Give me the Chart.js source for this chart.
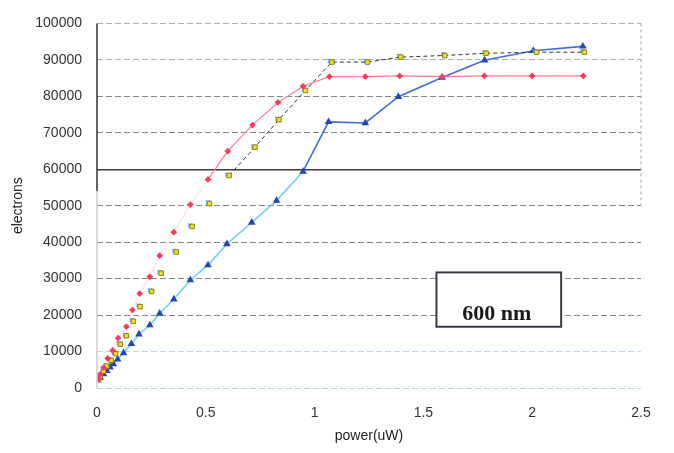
<!DOCTYPE html>
<html>
<head>
<meta charset="utf-8">
<script src="https://cdn.jsdelivr.net/npm/chart.js@4/dist/chart.umd.min.js"></script>
<style>
  html, body { margin: 0; padding: 0; background: #fff; }
  #chart { display: block; }
</style>
</head>
<body>
<canvas id="chart" width="674" height="453"></canvas>
<script>
(function () {
    'use strict';

    // ── Data ──────────────────────────────────────────────────────────────────
    var redX    = [0.005, 0.015, 0.03, 0.049, 0.072, 0.097, 0.135, 0.163, 0.196, 0.243, 0.288, 0.353, 0.429,
                   0.51, 0.601, 0.714, 0.832, 0.947, 1.068, 1.233, 1.391, 1.586, 1.78, 2.0, 2.235];
    var redY    = [2500, 3800, 5600, 8100, 10300, 13700, 16800, 21400, 25900, 30500, 36300, 42750, 50300,
                   57200, 64950, 72100, 78300, 82750, 85400, 85400, 85600, 85400, 85600, 85600, 85600];

    var yelX    = [0.005, 0.015, 0.03, 0.045, 0.065, 0.085, 0.107, 0.135, 0.167, 0.198, 0.251, 0.295, 0.364,
                   0.437, 0.517, 0.607, 0.726, 0.836, 0.958, 1.079, 1.243, 1.396, 1.598, 1.788, 2.02, 2.24];
    var yelY    = [2300, 3300, 4600, 6000, 7600, 9400, 12000, 14300, 18300, 22300, 26500, 31500, 37300,
                   44300, 50600, 58300, 66050, 73600, 81600, 89400, 89400, 90750, 91200, 91800, 92100, 92100];

    var cyanX   = [0.002, 0.011, 0.025, 0.039, 0.058, 0.078, 0.1, 0.128, 0.16, 0.19, 0.243, 0.287, 0.355,
                   0.427, 0.509, 0.598, 0.718, 0.828, 0.95, 1.07, 1.234, 1.388, 1.59, 1.78, 2.01, 2.23];
    var cyanY   = [2400, 3400, 4800, 6300, 7900, 9700, 12300, 14600, 18600, 22700, 26800, 31800, 37600,
                   44600, 50900, 58500, 66300, 73900, 81900, 89700, 89700, 91100, 91600, 92100, 92400, 92500];

    var blueX   = [0.005, 0.015, 0.03, 0.045, 0.06, 0.075, 0.095, 0.122, 0.158, 0.193, 0.243, 0.288, 0.353,
                   0.429, 0.51, 0.597, 0.711, 0.825, 0.947, 1.064, 1.233, 1.385, 1.586, 1.781, 2.005, 2.233];
    var blueY   = [2200, 2900, 3800, 4700, 5700, 6600, 7900, 9600, 12100, 14750, 17250, 20450, 24350,
                   29600, 33700, 39500, 45400, 51400, 59400, 73000, 72700, 79900, 85150, 89900, 92500, 93700];

    var yTicks  = [0, 10000, 20000, 30000, 40000, 50000, 60000, 70000, 80000, 90000, 100000];
    var xTicks  = [0, 0.5, 1, 1.5, 2, 2.5];
    var label   = '600 nm';

    function pts(xs, ys) {
        return xs.map(function (x, i) { return { x: x, y: ys[i] }; });
    }

    // ── Plugin: dark upper axis segment, faint right edge, label box ─────────
    var decor = {
        id: 'decor',
        afterDraw: function (chart) {
            var c  = chart.ctx;
            var xs = chart.scales.x, ys = chart.scales.y;
            var left = chart.chartArea.left, right = chart.chartArea.right;
            c.save();
            // left axis: solid dark on top, faint below
            c.lineWidth = 1.5;
            c.strokeStyle = '#d9c8cc';
            c.beginPath(); c.moveTo(left, ys.getPixelForValue(54000)); c.lineTo(left, ys.getPixelForValue(0)); c.stroke();
            c.strokeStyle = '#333';
            c.beginPath(); c.moveTo(left, ys.getPixelForValue(100000)); c.lineTo(left, ys.getPixelForValue(54000)); c.stroke();
            // right edge, faint dashed
            c.lineWidth = 1;
            c.strokeStyle = '#9aa';
            c.setLineDash([3, 3]);
            c.beginPath(); c.moveTo(right, ys.getPixelForValue(100000)); c.lineTo(right, ys.getPixelForValue(50000)); c.stroke();
            c.setLineDash([]);
            // label box
            var bx0 = xs.getPixelForValue(1.56), bx1 = xs.getPixelForValue(2.133);
            var by0 = ys.getPixelForValue(31700), by1 = ys.getPixelForValue(16800);
            c.fillStyle = '#fff';
            c.fillRect(bx0, by0, bx1 - bx0, by1 - by0);
            c.lineWidth = 2;
            c.strokeStyle = '#3a3a48';
            c.strokeRect(bx0, by0, bx1 - bx0, by1 - by0);
            c.fillStyle = '#1a1a1a';
            c.font = 'bold 22px "Liberation Serif", "DejaVu Serif", serif';
            c.textAlign = 'center';
            c.textBaseline = 'middle';
            c.fillText(label, (bx0 + bx1) / 2 - 2, by0 + (by1 - by0) * 0.77);
            c.restore();
        }
    };

    var tickFont = { family: '"Liberation Sans", Arial, sans-serif', size: 14 };

    new Chart(document.getElementById('chart'), {
        type: 'scatter',
        data: {
            datasets: [
                {
                    label: 'red',
                    data: pts(redX, redY),
                    showLine: true,
                    borderColor: '#ff7a94',
                    borderWidth: 1.2,
                    pointStyle: 'rectRot',
                    pointRadius: 2.5,
                    pointBackgroundColor: '#ff3a5c',
                    pointBorderColor: '#ff3a5c',
                    segment: {
                        borderColor: function (ctx) { return ctx.p0.parsed.x < 0.5 ? 'rgba(255,150,170,0.3)' : '#ff7a94'; }
                    }
                },
                {
                    label: 'yellow',
                    data: pts(yelX, yelY),
                    showLine: true,
                    borderColor: '#333',
                    borderWidth: 1,
                    borderDash: [4, 3],
                    pointStyle: 'rect',
                    pointRadius: 3.2,
                    pointBackgroundColor: '#f0e020',
                    pointBorderColor: '#8a8020',
                    pointBorderWidth: 1,
                    segment: {
                        borderColor: function (ctx) { return ctx.p0.parsed.x < 0.55 ? 'transparent' : '#333'; }
                    }
                },
                {
                    label: 'cyan',
                    data: pts(cyanX, cyanY),
                    showLine: false,
                    pointStyle: 'crossRot',
                    pointRadius: 2.6,
                    pointBorderWidth: 1.4,
                    pointBorderColor: '#3cb0e0'
                },
                {
                    label: 'blue',
                    data: pts(blueX, blueY),
                    showLine: true,
                    borderColor: '#6fd3f0',
                    borderWidth: 1.6,
                    pointStyle: 'triangle',
                    pointRadius: 2.8,
                    pointBackgroundColor: '#2346b8',
                    pointBorderColor: '#2346b8',
                    segment: {
                        borderColor: function (ctx) { return ctx.p0.parsed.x < 0.9 ? '#72d2f0' : '#3f6fd8'; }
                    }
                }
            ]
        },
        options: {
            responsive: false,
            animation: false,
            layout: { padding: { top: 13, right: 33, left: 0, bottom: 0 } },
            plugins: {
                legend: { display: false },
                tooltip: { enabled: false }
            },
            scales: {
                x: {
                    type: 'linear',
                    min: 0,
                    max: 2.5,
                    afterBuildTicks: function (s) { s.ticks = xTicks.map(function (v) { return { value: v }; }); },
                    afterFit: function (s) { s.height = 65; },
                    grid: { display: false, drawTicks: false },
                    border: { display: false },
                    ticks: {
                        font: tickFont,
                        color: '#333',
                        padding: 17,
                        maxRotation: 0,
                        callback: function (v) { return String(v); }
                    },
                    title: {
                        display: true,
                        text: 'power(uW)',
                        font: tickFont,
                        color: '#222',
                        padding: { top: 0, bottom: 8 }
                    }
                },
                y: {
                    type: 'linear',
                    min: 0,
                    max: 100000,
                    afterBuildTicks: function (s) { s.ticks = yTicks.map(function (v) { return { value: v }; }); },
                    afterFit: function (s) { s.width = 97; },
                    grid: {
                        drawTicks: false,
                        lineWidth: function (ctx) { return ctx.tick && ctx.tick.value === 60000 ? 1.4 : 1; },
                        color: function (ctx) {
                            var v = ctx.tick ? ctx.tick.value : 0;
                            if (v === 60000) return '#3a3a3a';
                            if (v === 0 || v === 10000) return '#b4dce6';
                            if (v === 100000 || v === 90000) return '#a9b2b4';
                            return '#7d8a8e';
                        }
                    },
                    border: {
                        display: false,
                        dash: function (ctx) { return ctx.tick && ctx.tick.value === 60000 ? [] : [6, 3]; }
                    },
                    ticks: {
                        font: tickFont,
                        color: '#333',
                        padding: 15,
                        callback: function (v) { return String(v); }
                    },
                    title: {
                        display: true,
                        text: 'electrons',
                        font: tickFont,
                        color: '#222',
                        padding: { top: 10, bottom: 0 }
                    }
                }
            }
        },
        plugins: [decor]
    });
})();
</script>
</body>
</html>
